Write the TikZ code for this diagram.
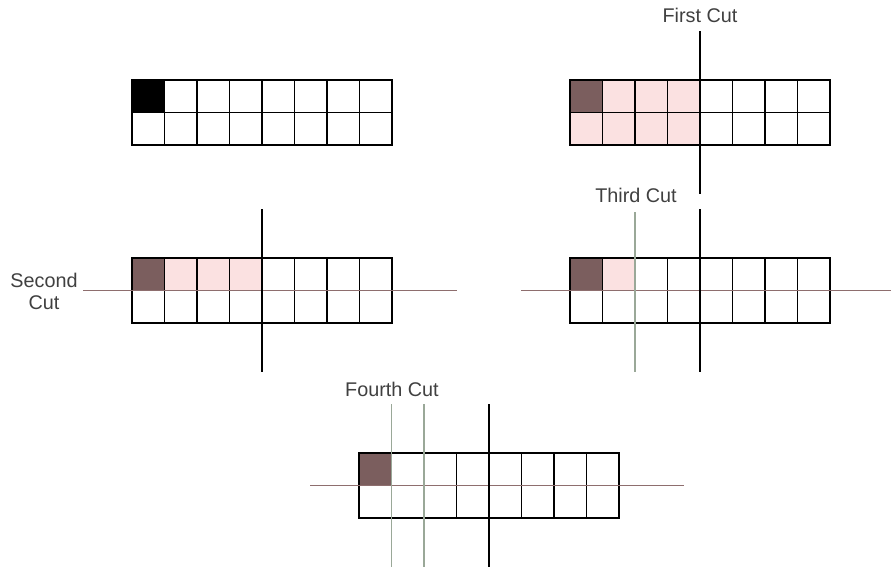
\documentclass[tikz,border=0pt]{standalone}
\usepackage{fontspec}
\setmainfont{Liberation Sans}
\usetikzlibrary{positioning}

\definecolor{cellDark}{HTML}{7B5E5E}
\definecolor{cellPink}{HTML}{FBE1E1}
\definecolor{cutBrown}{HTML}{8E6E6E}
\definecolor{cutGreen}{HTML}{9AA898}

\tikzset{
  board/.style={line width=1.6pt},
  cutmain/.style={line width=1.6pt},
  cutrow/.style={line width=1.2pt,cutBrown},
  cutcol/.style={line width=1.2pt,cutGreen},
  cutlabel/.style={font=\fontsize{19.8}{22}\selectfont,text=black!75,align=center,inner sep=0pt}
}

% 2x8 Gitter, Zellen mit Seitenlaenge 1
\newcommand{\drawboard}{%
  \draw[board] (0,0) rectangle (8,2);
  \foreach \c in {1,...,7} \draw[board] (\c,0) -- (\c,2);
  \draw[board] (0,1) -- (8,1);
}

\begin{document}
\begin{tikzpicture}[x=1pt,y=-1pt]
  \useasboundingbox (0,0) rectangle (891,569);

  % Ausgangslage
  \begin{scope}[shift={(132,80)},x=32.5pt,y=-32.5pt]
    \fill[black] (0,0) rectangle (1,1);
    \drawboard
  \end{scope}

  % erster Schnitt
  \begin{scope}[shift={(570,80)},x=32.5pt,y=-32.5pt]
    \fill[cellPink] (0,0) rectangle (4,2);
    \fill[cellDark] (0,0) rectangle (1,1);
    \drawboard
    \draw[cutmain] (4,-1.5) -- (4,3.5);
  \end{scope}
  \node[cutlabel] (firstcut) at (700,15) {First Cut};

  % zweiter Schnitt
  \begin{scope}[shift={(132,258)},x=32.5pt,y=-32.5pt]
    \fill[cellPink] (1,0) rectangle (4,1);
    \fill[cellDark] (0,0) rectangle (1,1);
    \drawboard
    \draw[cutrow] (-1.5,1) -- (10,1);
    \draw[cutmain] (4,-1.5) -- (4,3.5);
  \end{scope}
  \node[cutlabel] (secondcut) at (44,291) {Second\\Cut};

  % dritter Schnitt
  \begin{scope}[shift={(570,258)},x=32.5pt,y=-32.5pt]
    \fill[cellPink] (1,0) rectangle (2,1);
    \fill[cellDark] (0,0) rectangle (1,1);
    \drawboard
    \draw[cutrow] (-1.5,1) -- (10,1);
    \draw[cutcol] (2,-1.4) -- (2,3.5);
    \draw[cutmain] (4,-1.5) -- (4,3.5);
  \end{scope}
  \node[cutlabel] (thirdcut) at (636,195) {Third Cut};

  % vierter Schnitt
  \begin{scope}[shift={(359,453)},x=32.5pt,y=-32.5pt]
    \fill[cellDark] (0,0) rectangle (1,1);
    \drawboard
    \draw[cutrow] (-1.5,1) -- (10,1);
    \draw[cutcol] (1,-1.5) -- (1,3.5);
    \draw[cutcol] (2,-1.5) -- (2,3.5);
    \draw[cutmain] (4,-1.5) -- (4,3.5);
  \end{scope}
  \node[cutlabel] (fourthcut) at (392,389) {Fourth Cut};
\end{tikzpicture}
\end{document}
